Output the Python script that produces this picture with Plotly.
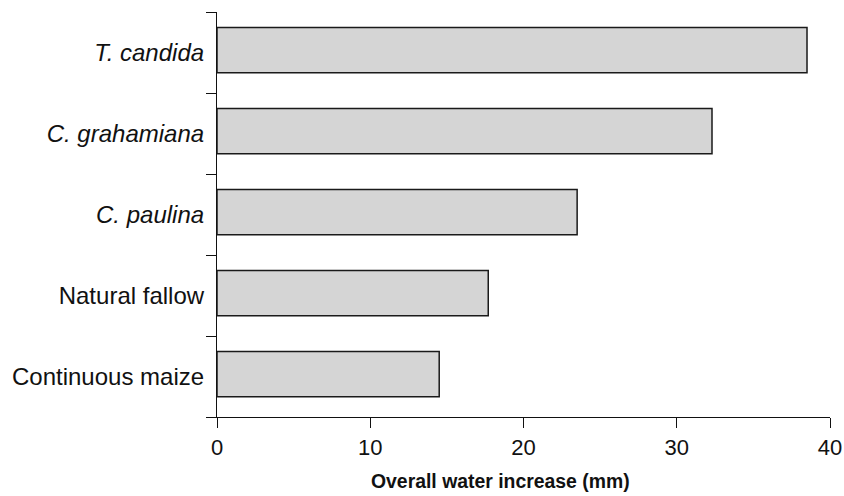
import plotly.graph_objects as go

# Categories listed bottom-to-top
categories = ["Continuous maize", "Natural fallow", "<i>C. paulina</i>",
              "<i>C. grahamiana</i>", "<i>T. candida</i>"]
values = [14.5, 17.7, 23.5, 32.3, 38.5]
x_ticks = [0, 10, 20, 30, 40]
x_title = "Overall water increase (mm)"

fig = go.Figure()
fig.add_trace(go.Bar(
    x=values, y=categories, orientation="h",
    width=0.56, offset=-0.25,
    marker=dict(color="#d5d5d5", line=dict(color="#1a1a1a", width=1.5)),
    showlegend=False, hoverinfo="skip",
))

font_family = "Liberation Sans, Arial, Helvetica, sans-serif"

fig.update_layout(
    width=844, height=496,
    margin=dict(l=217, r=14, t=12, b=79, autoexpand=False),
    paper_bgcolor="white", plot_bgcolor="white",
    font=dict(family=font_family, size=22, color="#111"),
    bargap=0.44,
)
fig.update_xaxes(
    range=[0, 40], tickvals=x_ticks, ticks="outside", ticklen=10,
    tickwidth=1.2, tickcolor="#111", showline=True, linecolor="#111",
    linewidth=1.2, showgrid=False, zeroline=False,
    tickfont=dict(size=22), automargin=False,
)
fig.update_yaxes(
    type="category", categoryorder="array", categoryarray=categories,
    range=[-0.5, 4.5], tickson="boundaries", ticks="outside", ticklen=10,
    tickwidth=1.2, tickcolor="#111", showline=True, linecolor="#111",
    linewidth=1.2, showgrid=False, zeroline=False,
    tickfont=dict(size=24), ticklabelstandoff=7, automargin=False,
)
fig.add_annotation(
    text="<b>" + x_title + "</b>", xref="paper", yref="paper",
    x=0.4618, y=-0.157, xanchor="center", yanchor="middle",
    showarrow=False, font=dict(size=19.4, color="#111"),
)

fig.write_html("out.html", config={"displayModeBar": False},
               post_script="document.body.style.margin='0';")
